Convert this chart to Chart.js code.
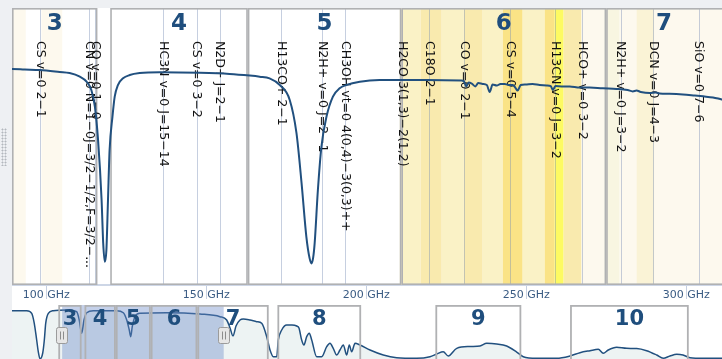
<!DOCTYPE html>
<html>
<head>
<meta charset="utf-8">
<script src="https://cdn.jsdelivr.net/npm/chart.js@4.4.1/dist/chart.umd.min.js"></script>
<style>
  html, body { margin: 0; padding: 0; width: 722px; height: 359px; overflow: hidden; background: #eef0f3; }
  #panel { position: absolute; left: 12px; top: 8px; width: 710px; height: 351px; background: #ffffff; }
  #grip { position: absolute; left: 1px; top: 128px; width: 6px; height: 38px;
          background-image: radial-gradient(circle, #b3b8bd 0.9px, transparent 1.1px); background-size: 3px 3px; }
  #mainBox { position: absolute; left: 12px; top: 8px; width: 710px; height: 302px; }
  #navBox { position: absolute; left: 12px; top: 303px; width: 710px; height: 57px; }
</style>
</head>
<body>
<div id="panel"></div>
<div id="grip"></div>
<div id="mainBox"><canvas id="main" width="710" height="302"></canvas></div>
<div id="navBox"><canvas id="nav" width="710" height="57"></canvas></div>
<script>
// ALMA receiver bands (GHz)
const bandNames = ['3', '4', '5', '6', '7', '8', '9', '10'];
const bandLow   = [84, 120, 163, 211, 275, 385, 602, 787];
const bandHigh  = [116, 163, 211, 275, 373, 500, 720, 950];

// Frequency range shown in the main panel (GHz) and the overview range
const viewRange = [89.3, 311.2];
const navRange  = [20.4, 995.7];
const tickValues = [100, 150, 200, 250, 300];

// Spectral line catalogue
const lineFreq = [97.98, 113.49, 115.27, 136.46, 146.97, 154.22, 173.51, 186.34, 193.45,
                  211.21, 219.56, 230.54, 244.94, 259.01, 267.56, 279.51, 289.64, 303.93];
const lineName = [
  'CS v=0 2\u22121',
  'CN v=0 N=1\u22120J=3/2\u22121/2,F=3/2\u22121/2',
  'CO v=0 1\u22120',
  'HC3N v=0 J=15\u221214',
  'CS v=0 3\u22122',
  'N2D+ J=2\u22121',
  'H13CO+ 2\u22121',
  'N2H+ v=0 J=2\u22121',
  'CH3OH vt=0 4(0,4)\u22123(0,3)++',
  'H2CO 3(1,3)\u22122(1,2)',
  'C18O 2\u22121',
  'CO v=0 2\u22121',
  'CS v=0 5\u22124',
  'H13CN v=0 J=3\u22122',
  'HCO+ v=0 3\u22122',
  'N2H+ v=0 J=3\u22122',
  'DCN v=0 J=4\u22123',
  'SiO v=0 7\u22126'
];

// Tuning coverage windows (GHz) and their overlap level
const windowLow   = [85.0, 98.5, 210.5, 217.0, 223.6, 230.5, 236.4, 242.7, 248.9, 255.8, 258.9, 261.7, 267.3, 274.5, 279.2, 284.5, 290.1];
const windowHigh  = [93.6, 105.0, 217.0, 223.6, 230.5, 236.4, 242.7, 248.9, 255.8, 258.9, 261.7, 267.3, 274.5, 279.2, 284.5, 290.1, 315.0];
const windowLevel = [0, 0, 3, 4, 3, 4, 3, 5, 3, 5, 6, 4, 0, 1, 0, 2, 0];

// Atmospheric transmission, zoomed panel
const mainFreq = [88.5, 89.2, 93.3, 98.0, 104.2, 107.3, 110.5, 112.6, 114.1, 115.2, 116.2, 117.3, 117.8, 118.3, 118.8,
  119.3, 119.8, 120.7, 121.4, 122.4, 124.0, 126.1, 129.2, 135.5, 148.0, 157.3, 163.6, 166.7, 169.8,
  173.0, 176.1, 178.2, 179.8, 181.3, 182.3, 182.9, 183.4, 183.9, 184.9, 186.0, 187.6, 189.6, 191.7,
  193.8, 198.0, 204.2, 210.5, 218.8, 229.8, 230.5, 231.3, 232.0, 233.0, 234.1, 235.0, 236.4, 237.7,
  238.6, 239.5, 240.8, 242.0, 243.3, 244.5, 245.8, 246.7, 247.3, 248.3, 249.8, 252.0, 254.2, 256.4,
  257.7, 258.3, 259.2, 261.1, 263.6, 266.7, 269.8, 273.9, 278.2, 281.7, 283.3, 284.5, 285.8, 288.6,
  290.5, 291.7, 294.8, 299.0, 302.7, 305.3, 308.4, 311.1, 312.0];
const mainTrans = [0.780, 0.780, 0.778, 0.776, 0.769, 0.765, 0.752, 0.734, 0.704, 0.644, 0.523, 0.307, 0.152, 0.084, 0.126,
  0.307, 0.487, 0.608, 0.680, 0.722, 0.746, 0.758, 0.765, 0.768, 0.766, 0.762, 0.756, 0.752, 0.746,
  0.722, 0.668, 0.549, 0.368, 0.174, 0.097, 0.078, 0.097, 0.152, 0.343, 0.499, 0.608, 0.680, 0.710,
  0.722, 0.734, 0.740, 0.740, 0.740, 0.738, 0.736, 0.717, 0.731, 0.727, 0.717, 0.729, 0.726, 0.722,
  0.697, 0.724, 0.720, 0.726, 0.726, 0.722, 0.722, 0.711, 0.702, 0.722, 0.724, 0.726, 0.722, 0.720,
  0.718, 0.704, 0.718, 0.717, 0.717, 0.713, 0.713, 0.710, 0.708, 0.704, 0.699, 0.702, 0.697, 0.693,
  0.695, 0.691, 0.690, 0.688, 0.684, 0.681, 0.677, 0.670, 0.668];

// Atmospheric transmission, full overview
const navFreq = [20.4, 40.6, 47.5, 51.0, 54.3, 56.5, 58.9, 62.6, 64.8, 66.7, 70.3, 77.1, 95.5, 109.3, 112.8,
  116.1, 119.3, 123.0, 132.1, 164.2, 173.3, 178.0, 181.5, 183.5, 185.6, 189.4, 196.2, 232.9, 278.6,
  306.1, 315.3, 319.9, 324.0, 328.1, 333.6, 338.1, 347.3, 356.5, 363.4, 370.3, 374.8, 379.3, 384.0,
  386.2, 390.9, 397.7, 405.0, 411.5, 414.6, 418.3, 421.5, 425.2, 428.8, 432.1, 438.9, 445.8, 452.7,
  457.2, 461.7, 466.4, 470.9, 475.5, 480.2, 483.7, 487.0, 491.6, 498.4, 512.2, 530.4, 548.8, 576.3,
  594.6, 603.8, 612.8, 619.7, 631.3, 649.5, 663.3, 672.5, 686.2, 699.9, 713.7, 722.7, 741.1, 768.6,
  786.9, 800.6, 814.4, 825.8, 832.6, 839.5, 851.0, 864.8, 878.5, 892.2, 906.0, 915.0, 924.2, 933.5,
  942.1, 951.7, 970.0, 995.7];
const navTrans = [0.896, 0.896, 0.849, 0.667, 0.364, 0.151, 0.020, 0.127, 0.364, 0.667, 0.849, 0.896, 0.909, 0.878, 0.727,
  0.485, 0.727, 0.860, 0.896, 0.896, 0.860, 0.727, 0.545, 0.424, 0.606, 0.788, 0.849, 0.860, 0.836,
  0.788, 0.727, 0.582, 0.436, 0.618, 0.727, 0.745, 0.727, 0.697, 0.667, 0.424, 0.182, 0.060, 0.060,
  0.364, 0.545, 0.636, 0.636, 0.618, 0.582, 0.364, 0.273, 0.424, 0.485, 0.364, 0.060, 0.060, 0.242,
  0.303, 0.212, 0.091, 0.182, 0.273, 0.091, 0.273, 0.151, 0.303, 0.273, 0.182, 0.091, 0.042, 0.031,
  0.060, 0.109, 0.151, 0.073, 0.212, 0.245, 0.255, 0.303, 0.291, 0.255, 0.145, 0.060, 0.031, 0.031,
  0.073, 0.133, 0.169, 0.194, 0.122, 0.182, 0.231, 0.212, 0.209, 0.169, 0.091, 0.031, 0.073, 0.104,
  0.091, 0.042, 0.031, 0.031];

// ---- styling ----
const FONT = '"DejaVu Sans", "Liberation Sans", sans-serif';
const BAND_TEXT = '#1f4e7d';
const CURVE = '#21507f';
const FRAME = '#b0b1b3';
const shadePalette = ['#fdf9ee', '#f8f6e1', '#faf3d6', '#faf2c6', '#f9eaae', '#fae386', '#fdfa62'];

const pairs = (xs, ys) => xs.map((v, i) => ({ x: v, y: ys[i] }));

// Coverage windows, band frames, line markers and band numbers behind the spectrum
const mainDecor = {
  id: 'mainDecor',
  beforeDatasetsDraw(chart) {
    const { ctx, chartArea: a, scales: { x } } = chart;
    const h = a.bottom - a.top;
    ctx.save();
    ctx.beginPath();
    ctx.rect(a.left, a.top, a.right - a.left, h);
    ctx.clip();

    windowLow.forEach((lo, i) => {
      const x0 = x.getPixelForValue(lo), x1 = x.getPixelForValue(windowHigh[i]);
      ctx.fillStyle = shadePalette[windowLevel[i]];
      ctx.fillRect(x0, a.top, x1 - x0, h);
    });

    ctx.strokeStyle = 'rgba(120,140,180,0.42)';
    ctx.lineWidth = 1;
    lineFreq.forEach(f => {
      const px = Math.round(x.getPixelForValue(f)) + 0.5;
      ctx.beginPath(); ctx.moveTo(px, a.top); ctx.lineTo(px, a.bottom); ctx.stroke();
    });

    ctx.strokeStyle = FRAME;
    ctx.lineWidth = 1.6;
    bandLow.forEach((lo, i) => {
      const x0 = x.getPixelForValue(lo), x1 = x.getPixelForValue(bandHigh[i]);
      ctx.strokeRect(x0 + 0.8, a.top + 0.8, x1 - x0 - 1.6, h - 1.6);
    });
    ctx.beginPath(); ctx.moveTo(a.left + 0.8, a.top); ctx.lineTo(a.left + 0.8, a.bottom); ctx.stroke();

    // rotated line names, shortened with an ellipsis when taller than the panel
    ctx.fillStyle = '#111111';
    ctx.font = '12.5px ' + FONT;
    ctx.textBaseline = 'middle';
    ctx.textAlign = 'left';
    const top = a.top + 33, avail = a.bottom - top - 10;
    lineName.forEach((name, i) => {
      let t = name;
      if (ctx.measureText(t).width > avail) {
        while (t.length && ctx.measureText(t + '...').width > avail) t = t.slice(0, -1);
        t += '...';
      }
      ctx.save();
      ctx.translate(x.getPixelForValue(lineFreq[i]), top);
      ctx.rotate(Math.PI / 2);
      ctx.fillText(t, 0, 0);
      ctx.restore();
    });

    ctx.font = 'bold 23px ' + FONT;
    ctx.fillStyle = BAND_TEXT;
    ctx.textAlign = 'center';
    ctx.textBaseline = 'alphabetic';
    bandLow.forEach((lo, i) => {
      const x0 = Math.max(x.getPixelForValue(lo), a.left);
      const x1 = Math.min(x.getPixelForValue(bandHigh[i]), a.right);
      if (x1 - x0 > 12) ctx.fillText(bandNames[i], (x0 + x1) / 2, a.top + 22);
    });
    ctx.restore();
  }
};

new Chart(document.getElementById('main'), {
  type: 'line',
  data: {
    datasets: [{
      data: pairs(mainFreq, mainTrans),
      borderColor: CURVE,
      borderWidth: 2,
      pointRadius: 0,
      cubicInterpolationMode: 'monotone',
      fill: false
    }]
  },
  options: {
    responsive: false,
    animation: false,
    events: [],
    layout: { padding: 0 },
    plugins: { legend: { display: false }, tooltip: { enabled: false } },
    scales: {
      x: {
        type: 'linear',
        min: viewRange[0],
        max: viewRange[1],
        afterBuildTicks: s => { s.ticks = tickValues.map(v => ({ value: v })); },
        afterFit: s => { s.height = 25; },
        grid: { drawOnChartArea: false, drawTicks: true, tickLength: 14, tickColor: '#c6d0e1', tickWidth: 1 },
        border: { display: true, color: '#cdd6e6', width: 2 },
        ticks: {
          padding: -10,
          color: '#3a5b83',
          font: { family: FONT, size: 11 },
          maxRotation: 0,
          autoSkip: false,
          callback: v => v + ' GHz'
        }
      },
      y: { display: false, min: 0, max: 1 }
    }
  },
  plugins: [mainDecor]
});

// Overview: selected range, band frames, band numbers and drag handles
const navDecor = {
  id: 'navDecor',
  afterDatasetsDraw(chart) {
    const { ctx, chartArea: a, scales: { x } } = chart;
    ctx.save();
    const v0 = x.getPixelForValue(viewRange[0]), v1 = x.getPixelForValue(viewRange[1]);
    ctx.fillStyle = 'rgba(108,138,200,0.40)';
    ctx.fillRect(v0, a.top, v1 - v0, chart.height - a.top);

    ctx.strokeStyle = FRAME;
    ctx.lineWidth = 1.8;
    bandLow.forEach((lo, i) => {
      const x0 = x.getPixelForValue(lo), x1 = x.getPixelForValue(bandHigh[i]);
      ctx.strokeRect(x0 + 0.9, a.top + 0.9, x1 - x0 - 1.8, chart.height);
    });

    ctx.font = 'bold 21px ' + FONT;
    ctx.fillStyle = BAND_TEXT;
    ctx.textAlign = 'center';
    ctx.textBaseline = 'alphabetic';
    bandLow.forEach((lo, i) => {
      const x0 = x.getPixelForValue(lo), x1 = x.getPixelForValue(bandHigh[i]);
      ctx.fillText(bandNames[i], (x0 + x1) / 2, a.top + 20);
    });

    [v0, v1].forEach(px => {
      const hx = Math.round(px) - 5.5, hy = a.top + 22.5;
      ctx.beginPath();
      ctx.roundRect(hx, hy, 11, 16, 2);
      ctx.fillStyle = '#e6e6e6';
      ctx.fill();
      ctx.strokeStyle = '#9b9b9b';
      ctx.lineWidth = 1;
      ctx.stroke();
      ctx.strokeStyle = '#8c8c8c';
      [hx + 4, hx + 7].forEach(lx => {
        ctx.beginPath(); ctx.moveTo(lx, hy + 4); ctx.lineTo(lx, hy + 12); ctx.stroke();
      });
    });
    ctx.restore();
  }
};

new Chart(document.getElementById('nav'), {
  type: 'line',
  data: {
    datasets: [{
      data: pairs(navFreq, navTrans),
      borderColor: CURVE,
      borderWidth: 1.5,
      pointRadius: 0,
      cubicInterpolationMode: 'monotone',
      fill: 'start',
      backgroundColor: '#edf3f3'
    }]
  },
  options: {
    responsive: false,
    animation: false,
    events: [],
    layout: { padding: { top: 2, left: 0, right: 0, bottom: 0 } },
    plugins: { legend: { display: false }, tooltip: { enabled: false } },
    scales: {
      x: { type: 'linear', display: false, min: navRange[0], max: navRange[1] },
      y: { display: false, min: 0, max: 1 }
    }
  },
  plugins: [navDecor]
});
</script>
</body>
</html>
